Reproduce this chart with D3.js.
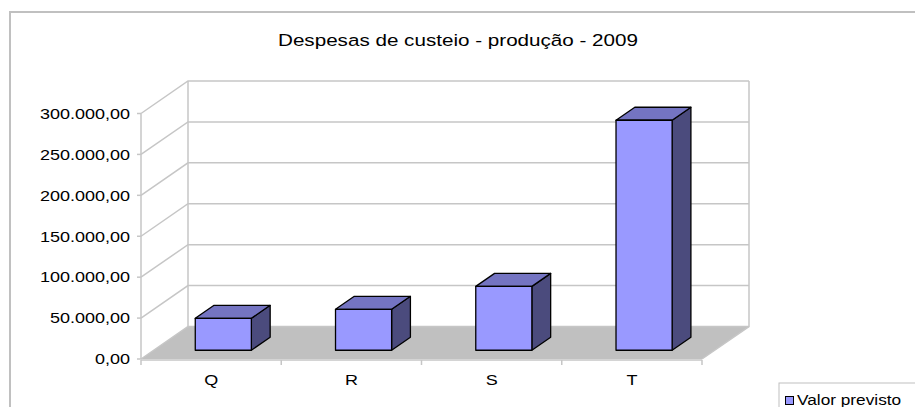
<!DOCTYPE html>
<html>
<head>
<meta charset="utf-8">
<script src="https://cdn.jsdelivr.net/npm/d3@7"></script>
<style>
  body { margin: 0; background: #fff; }
  text { font-family: Arial, "Liberation Sans", sans-serif; fill: #000; }
</style>
</head>
<body>
<div id="chart"></div>
<script>
// dados do gráfico
const categorias = ["Q", "R", "S", "T"];
const valorPrevisto = [39000, 50000, 78000, 281000];
const yTicks = [0, 50000, 100000, 150000, 200000, 250000, 300000];
const titulo = "Despesas de custeio - produção - 2009";
const legendaNome = "Valor previsto";

const width = 915, height = 407;
const depthX = 47, depthY = 32.5; // deslocamento da parede do fundo
const stretch = 1.2; // texto esticado na horizontal

const svg = d3
  .select("#chart")
  .append("svg")
  .attr("width", width)
  .attr("height", height);

const x = d3.scaleBand().domain(categorias).range([141, 702]);
const y = d3.scaleLinear().domain([0, 300000]).range([359, 113.5]);

// projeção oblíqua: (posição x, valor, profundidade 0..1)
const proj = (px, v, z) => [px + z * depthX, y(v) - z * depthY];
const fmt = (v) =>
  d3.format(",.2f")(v).replace(/,/g, "#").replace(/\./g, ",").replace(/#/g, ".");

const grid = "#c6c6c6";

// moldura
svg
  .append("rect")
  .attr("x", 10)
  .attr("y", 12)
  .attr("width", 930)
  .attr("height", 420)
  .attr("fill", "none")
  .attr("stroke", "#c0c0c0")
  .attr("stroke-width", 2);

// título
svg
  .append("text")
  .attr("transform", `translate(458,46) scale(${stretch},1)`)
  .attr("text-anchor", "middle")
  .attr("font-size", "17.2px")
  .text(titulo);

const [x0, x1] = x.range();

// chão
const floor = [proj(x0, 0, 0), proj(x1, 0, 0), proj(x1, 0, 1), proj(x0, 0, 1)];
svg
  .append("polygon")
  .attr("points", floor.map((p) => p.join(",")).join(" "))
  .attr("fill", "#c0c0c0");

// linhas de grade: parede do fundo e parede esquerda
const gl = svg.append("g").attr("stroke", grid).attr("stroke-width", 1.5).attr("fill", "none");
yTicks.forEach((t) => {
  const a = proj(x0, t, 0), b = proj(x0, t, 1), c = proj(x1, t, 1);
  gl.append("path").attr("d", d3.line()([a, b, c]));
});
gl.append("path").attr("d", d3.line()([proj(x0, 0, 0), proj(x0, 300000, 0)]));
gl.append("path").attr("d", d3.line()([proj(x0, 0, 1), proj(x0, 300000, 1)]));
gl.append("path").attr("d", d3.line()([proj(x1, 300000, 1), proj(x1, 0, 1), proj(x1, 0, 0)]));

// eixo das categorias
gl.append("path").attr("d", d3.line()([[x0, 360], [x1, 360]]));
x.domain().forEach((c) => {
  gl.append("path").attr("d", d3.line()([[x(c), 360], [x(c), 365]]));
});
gl.append("path").attr("d", d3.line()([[x1, 360], [x1, 365]]));

// marcas do eixo y
yTicks.forEach((t) => {
  gl.append("path").attr("d", d3.line()([[x0 - 4, y(t)], [x0, y(t)]]));
});

// rótulos do eixo y
svg
  .append("g")
  .selectAll("text")
  .data(yTicks)
  .enter()
  .append("text")
  .attr("transform", (d) => `translate(130,${y(d) + 5.3}) scale(${stretch},1)`)
  .attr("text-anchor", "end")
  .attr("font-size", "15px")
  .text((d) => fmt(d));

// rótulos das categorias
svg
  .append("g")
  .selectAll("text")
  .data(categorias)
  .enter()
  .append("text")
  .attr("transform", (d) => `translate(${x(d) + x.bandwidth() / 2},385) scale(${stretch},1)`)
  .attr("text-anchor", "middle")
  .attr("font-size", "15px")
  .text((d) => d);

// barras 3D
const zf = 0.27, zb = 0.67;
const bw = x.bandwidth() * 0.4;
const pts = (arr) => arr.map((p) => p.join(",")).join(" ");

const bars = svg
  .append("g")
  .selectAll("g")
  .data(categorias.map((c, i) => ({ c, v: valorPrevisto[i] })))
  .enter()
  .append("g")
  .attr("stroke", "#000")
  .attr("stroke-width", 1.3)
  .attr("stroke-linejoin", "round");

bars.each(function (d) {
  const g = d3.select(this);
  const l = x(d.c) + (x.bandwidth() - bw) / 2 - 0.5;
  const r = l + bw;
  // lado
  g.append("polygon")
    .attr("fill", "#4b4b7d")
    .attr("points", pts([proj(r, 0, zf), proj(r, 0, zb), proj(r, d.v, zb), proj(r, d.v, zf)]));
  // topo
  g.append("polygon")
    .attr("fill", "#7474c2")
    .attr("points", pts([proj(l, d.v, zf), proj(r, d.v, zf), proj(r, d.v, zb), proj(l, d.v, zb)]));
  // frente
  g.append("polygon")
    .attr("fill", "#9999ff")
    .attr("points", pts([proj(l, 0, zf), proj(r, 0, zf), proj(r, d.v, zf), proj(l, d.v, zf)]));
});

// legenda
const lg = svg.append("g");
lg.append("rect")
  .attr("x", 779)
  .attr("y", 383)
  .attr("width", 200)
  .attr("height", 60)
  .attr("fill", "#fff")
  .attr("stroke", "#c0c0c0")
  .attr("stroke-width", 1);
lg.append("rect")
  .attr("x", 785.5)
  .attr("y", 396.5)
  .attr("width", 8)
  .attr("height", 8)
  .attr("fill", "#9999ff")
  .attr("stroke", "#000")
  .attr("stroke-width", 1);
lg.append("text")
  .attr("transform", `translate(797,405) scale(1.15,1)`)
  .attr("font-size", "15px")
  .text(legendaNome);
</script>
</body>
</html>
